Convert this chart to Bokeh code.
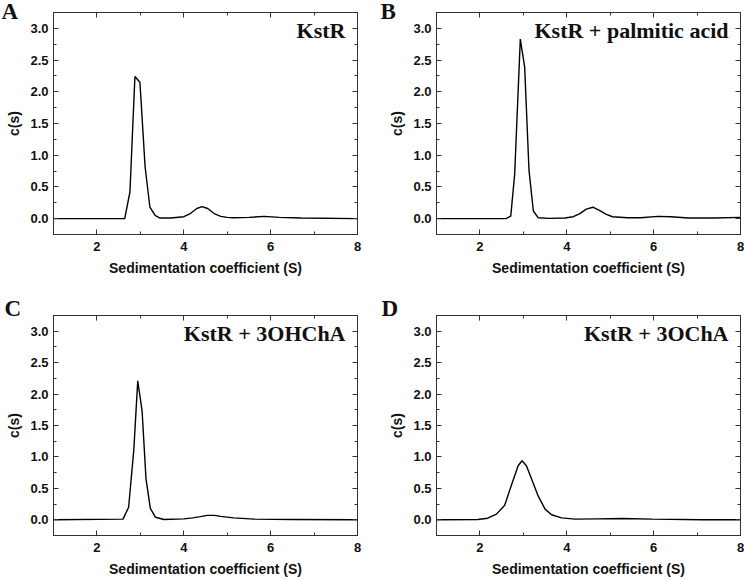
from bokeh.plotting import figure
from bokeh.models import Range1d, FixedTicker, PrintfTickFormatter, LinearAxis, Label, CustomJSTickFormatter
from bokeh.layouts import column, row
from bokeh.embed import file_html
from bokeh.resources import INLINE

# ---- data ----
x_ticks = [2, 4, 6, 8]
x_minor = [1, 3, 5, 7]
y_ticks = [0.0, 0.5, 1.0, 1.5, 2.0, 2.5, 3.0]
y_minor = [-0.25, 0.25, 0.75, 1.25, 1.75, 2.25, 2.75, 3.25]

s_A = [1.0, 2.64, 2.76, 2.875, 2.99, 3.11, 3.22, 3.34, 3.45, 3.7, 4.0, 4.15, 4.3, 4.42, 4.55, 4.7, 4.85, 5.0, 5.15, 5.5, 5.85, 6.2, 6.7, 8.0]
c_A = [0.0, 0.0, 0.42, 2.24, 2.15, 0.81, 0.18, 0.05, 0.01, 0.01, 0.03, 0.08, 0.16, 0.19, 0.16, 0.08, 0.035, 0.02, 0.015, 0.02, 0.035, 0.02, 0.01, 0.0]

s_B = [1.0, 2.6, 2.71, 2.8, 2.93, 3.03, 3.13, 3.23, 3.34, 3.6, 3.96, 4.15, 4.3, 4.45, 4.6, 4.75, 4.9, 5.05, 5.4, 5.7, 6.1, 6.4, 6.8, 7.4, 8.0]
c_B = [0.0, 0.0, 0.04, 0.7, 2.83, 2.39, 0.76, 0.12, 0.015, 0.005, 0.01, 0.03, 0.08, 0.15, 0.18, 0.13, 0.07, 0.03, 0.015, 0.015, 0.035, 0.03, 0.01, 0.01, 0.02]

s_C = [1.0, 2.6, 2.73, 2.85, 2.94, 3.04, 3.13, 3.23, 3.35, 3.54, 4.0, 4.2, 4.38, 4.54, 4.7, 4.85, 5.15, 5.62, 6.5, 8.0]
c_C = [0.0, 0.01, 0.2, 1.12, 2.21, 1.73, 0.65, 0.18, 0.04, 0.005, 0.015, 0.03, 0.05, 0.07, 0.07, 0.055, 0.03, 0.01, 0.005, 0.0]

s_D = [1.0, 1.95, 2.18, 2.38, 2.57, 2.72, 2.88, 2.97, 3.07, 3.19, 3.34, 3.5, 3.65, 3.88, 4.19, 4.7, 5.27, 5.97, 7.13, 8.0]
c_D = [0.0, 0.005, 0.025, 0.09, 0.23, 0.54, 0.86, 0.94, 0.86, 0.65, 0.38, 0.17, 0.08, 0.03, 0.01, 0.015, 0.02, 0.01, 0.0, 0.0]

panel_letters = ["A", "B", "C", "D"]
panel_titles = ["KstR", "KstR + palmitic acid", "KstR + 3OHChA", "KstR + 3OChA"]
x_title = "Sedimentation coefficient (S)"
y_title = "c(s)"

FRAME = "#333333"
SANS = "Liberation Sans"
SERIF = "Liberation Serif"


def style_axis(ax, show_labels):
    ax.major_tick_in = 5
    ax.major_tick_out = 0
    ax.minor_tick_in = 3
    ax.minor_tick_out = 0
    ax.major_tick_line_color = FRAME
    ax.minor_tick_line_color = FRAME
    ax.axis_line_color = FRAME
    if show_labels:
        ax.major_label_text_font = SANS
        ax.major_label_text_font_style = "bold"
        ax.major_label_text_font_size = "13px"
        ax.major_label_text_color = "#111111"
        ax.axis_label_text_font = SANS
        ax.axis_label_text_font_style = "bold"
        ax.axis_label_text_font_size = "14px"
        ax.axis_label_text_color = "#111111"
    else:
        ax.formatter = CustomJSTickFormatter(code="return '';")
        ax.major_label_standoff = 0


def make_panel(xs, ys, letter, title, width, height, bl, br, bt, bb, letter_dx, standoff):
    p = figure(width=width, height=height, output_backend="svg", toolbar_location=None,
               x_range=Range1d(1, 8), y_range=Range1d(-0.25, 3.25),
               min_border_left=bl, min_border_right=br, min_border_top=bt, min_border_bottom=bb,
               x_axis_label=x_title, y_axis_label=y_title)
    p.xgrid.visible = False
    p.ygrid.visible = False
    p.outline_line_color = FRAME
    p.outline_line_width = 1
    p.background_fill_color = "white"
    p.border_fill_color = "white"

    p.line(xs, ys, line_color="black", line_width=1.4)

    p.xaxis.ticker = FixedTicker(ticks=x_ticks, minor_ticks=x_minor)
    p.yaxis.ticker = FixedTicker(ticks=y_ticks, minor_ticks=y_minor)
    p.yaxis.formatter = PrintfTickFormatter(format="%.1f")
    style_axis(p.xaxis[0], True)
    style_axis(p.yaxis[0], True)
    p.xaxis.major_label_standoff = 7
    p.xaxis.axis_label_standoff = 6
    p.yaxis.major_label_standoff = 5
    p.yaxis.axis_label_standoff = 5

    top = LinearAxis(ticker=FixedTicker(ticks=x_ticks, minor_ticks=x_minor))
    right = LinearAxis(ticker=FixedTicker(ticks=y_ticks, minor_ticks=y_minor))
    style_axis(top, False)
    style_axis(right, False)
    p.add_layout(top, "above")
    p.add_layout(right, "right")

    p.add_layout(Label(x=8, y=3.25, x_offset=-12, y_offset=-5, text=title,
                       text_align="right", text_baseline="top",
                       text_font=SERIF, text_font_style="bold", text_font_size="22px",
                       text_color="#111111"))

    # panel letter as the figure title, pulled down beside the frame
    p.title.text = letter
    p.title.align = "left"
    p.title.offset = letter_dx
    p.title.standoff = standoff
    p.title.text_font = SERIF
    p.title.text_font_style = "bold"
    p.title.text_font_size = "23px"
    p.title.text_color = "#111111"
    return p


pA = make_panel(s_A, c_A, panel_letters[0], panel_titles[0], 375, 290, 53, 18, 12, 56, -52, -23)
pB = make_panel(s_B, c_B, panel_letters[1], panel_titles[1], 369, 290, 61, 4, 12, 56, -56, -23)
pC = make_panel(s_C, c_C, panel_letters[2], panel_titles[2], 375, 289, 53, 18, 25, 42, -49, -10)
pD = make_panel(s_D, c_D, panel_letters[3], panel_titles[3], 369, 289, 61, 4, 25, 42, -55, -10)

layout = column(row(pA, pB), row(pC, pD))
open("out.html", "w").write(file_html(layout, INLINE))
